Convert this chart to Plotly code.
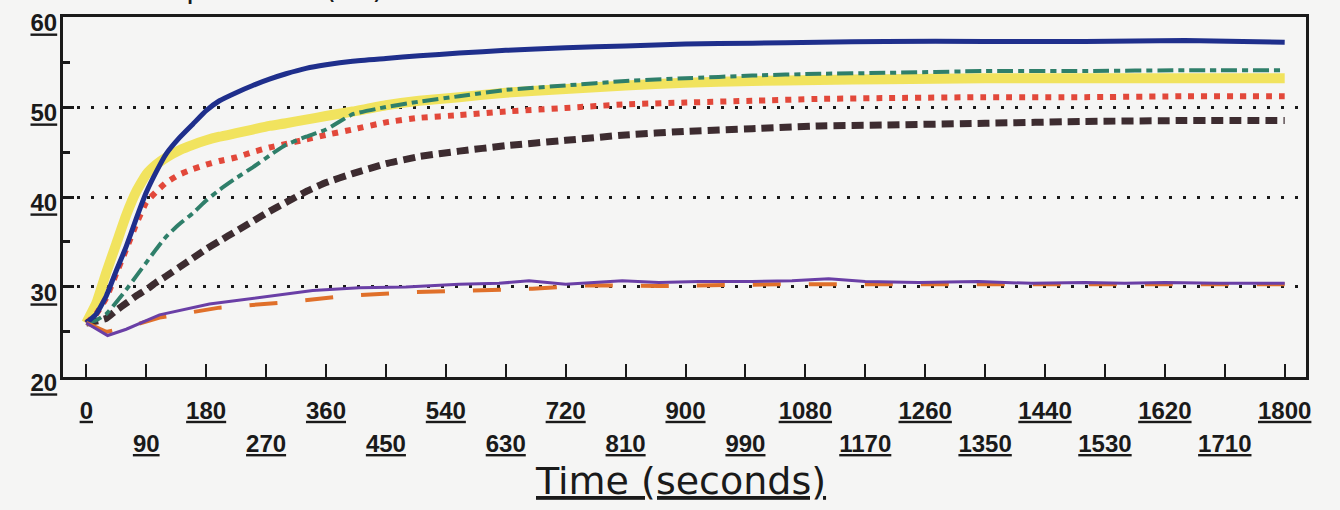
import plotly.graph_objects as go

# Sample times (s) for the smooth heating curves
time_s = [0, 15, 30, 45, 60, 75, 90, 105, 120, 140, 160, 180, 200, 225, 250, 275,
          300, 330, 360, 400, 450, 500, 560, 630, 720, 810, 900, 1000, 1100, 1200,
          1350, 1500, 1650, 1800]

blue_solid = [26.0, 27.0, 29.0, 31.8, 34.5, 37.6, 40.5, 42.8, 44.8, 46.6, 48.1, 49.6,
              50.7, 51.6, 52.4, 53.1, 53.7, 54.3, 54.7, 55.1, 55.4, 55.7, 56.0, 56.3,
              56.6, 56.8, 57.0, 57.1, 57.2, 57.3, 57.3, 57.3, 57.4, 57.2]
yellow_solid = [26.0, 28.2, 31.6, 34.8, 38.0, 40.6, 42.5, 43.6, 44.4, 45.2, 45.8, 46.3,
                46.7, 47.1, 47.5, 47.9, 48.2, 48.6, 49.0, 49.5, 50.2, 50.7, 51.1, 51.6,
                52.0, 52.4, 52.7, 52.9, 53.0, 53.1, 53.2, 53.2, 53.2, 53.2]
red_dotted = [26.0, 27.0, 28.8, 31.5, 34.2, 37.0, 39.4, 40.6, 41.6, 42.5, 43.1, 43.6,
              44.0, 44.4, 45.0, 45.5, 45.9, 46.4, 46.9, 47.5, 48.3, 48.8, 49.1, 49.5,
              49.9, 50.3, 50.5, 50.7, 50.9, 51.0, 51.1, 51.1, 51.2, 51.2]
teal_dashdot = [26.0, 26.3, 27.0, 28.3, 29.7, 31.2, 32.7, 34.2, 35.6, 37.0, 38.2, 39.6,
                40.8, 42.1, 43.3, 44.6, 45.8, 46.7, 47.5, 49.2, 50.0, 50.6, 51.2, 51.9,
                52.4, 52.9, 53.2, 53.5, 53.7, 53.8, 54.0, 54.0, 54.1, 54.1]
brown_dashed = [26.0, 26.2, 26.5, 27.4, 28.2, 29.0, 29.7, 30.5, 31.2, 32.2, 33.2, 34.2,
                35.1, 36.2, 37.3, 38.4, 39.4, 40.6, 41.6, 42.6, 43.7, 44.5, 45.1, 45.7,
                46.3, 46.9, 47.3, 47.6, 47.9, 48.0, 48.2, 48.4, 48.5, 48.5]

# The two flat curves
purple_time = [0, 32, 60, 110, 185, 270, 340, 410, 480, 560, 620, 665, 720, 805, 860,
               920, 1000, 1060, 1115, 1170, 1250, 1340, 1420, 1500, 1560, 1620, 1700, 1800]
purple_solid = [26.0, 24.6, 25.3, 26.9, 28.1, 28.9, 29.6, 29.9, 30.0, 30.3, 30.4, 30.7,
                30.3, 30.7, 30.5, 30.6, 30.6, 30.7, 30.9, 30.6, 30.5, 30.6, 30.4, 30.5,
                30.4, 30.5, 30.4, 30.4]
orange_time = [0, 30, 60, 110, 200, 300, 390, 485, 575, 670, 760, 860, 1045, 1200,
               1400, 1600, 1800]
orange_dashed = [26.0, 25.0, 25.5, 26.6, 27.7, 28.3, 29.0, 29.4, 29.6, 29.8, 30.2, 30.1,
                 30.3, 30.3, 30.3, 30.3, 30.3]

# Axis ticks
tick_row1 = list(range(0, 1801, 180))
tick_row2 = list(range(90, 1800, 180))
y_ticks = [20, 30, 40, 50, 60]

BG = "#f5f5f4"
INK = "#1a1a1a"
LABEL_FONT = dict(family="Liberation Sans", size=24, color=INK,
                  weight="bold", lineposition="under")

fig = go.Figure()

def add(x, y, color, width, dash="solid", shape="spline"):
    fig.add_trace(go.Scatter(x=x, y=y, mode="lines", showlegend=False,
                             hoverinfo="skip",
                             line=dict(color=color, width=width, dash=dash,
                                       shape=shape, smoothing=0.4)))

add(time_s, yellow_solid, "#f1e35e", 10)
add(time_s, red_dotted, "#e2483a", 6, "6px,7px")
add(time_s, brown_dashed, "#3d2c30", 7, "12px,6px")
add(time_s, teal_dashdot, "#2f7f6a", 4, "16px,5px,6px,5px")
add(time_s, blue_solid, "#1f2f8c", 5)
add(orange_time, orange_dashed, "#e0702a", 4, "28px,28px", "linear")
add(purple_time, purple_solid, "#6a3fa6", 3, "solid", "linear")

fig.update_layout(
    width=1340, height=510,
    margin=dict(l=63, r=34, t=17, b=133, autoexpand=False),
    paper_bgcolor=BG, plot_bgcolor=BG,
    xaxis=dict(
        range=[-35, 1832], showgrid=False, zeroline=False,
        showline=True, linewidth=3, linecolor=INK, mirror=True,
        tickvals=tick_row1 + tick_row2,
        ticktext=[str(v) for v in tick_row1] + ["" for _ in tick_row2],
        ticks="inside", ticklen=13, tickwidth=2, tickcolor=INK,
        tickfont=LABEL_FONT, ticklabelstandoff=10,
    ),
    xaxis2=dict(
        overlaying="x", anchor="y", side="bottom", matches="x",
        range=[-35, 1832], showgrid=False, zeroline=False, showline=False,
        tickvals=tick_row2, ticktext=[str(v) for v in tick_row2],
        ticks="", tickfont=LABEL_FONT, ticklabelstandoff=50,
    ),
    yaxis=dict(
        range=[19.99, 60.01], tickvals=y_ticks, ticktext=[str(v) for v in y_ticks],
        showline=True, linewidth=3, linecolor=INK, mirror=True,
        zeroline=False,
        ticks="inside", ticklen=11, tickwidth=3, tickcolor=INK,
        showgrid=True, gridcolor=INK, gridwidth=3, griddash="3px,11px",
        minor=dict(dtick=5, ticks="inside", ticklen=7, tickwidth=3,
                   tickcolor=INK, showgrid=False),
        tickfont=LABEL_FONT, ticklabelshift=6, ticklabelstandoff=-2,
    ),
    annotations=[
        dict(text="Time (seconds)", xref="paper", yref="paper", x=0.497, y=-0.222,
             xanchor="center", yanchor="top", showarrow=False,
             font=dict(family="DejaVu Sans", size=38, color=INK,
                       lineposition="under")),
        dict(text="Temperature (°C)", xref="paper", yref="paper", x=0.26, y=1.029,
             xanchor="right", yanchor="bottom", showarrow=False,
             font=dict(family="DejaVu Sans", size=30, color=INK)),
    ],
)

# a hidden trace keeps the second (label-only) x axis active
fig.add_trace(go.Scatter(x=[0], y=[20], xaxis="x2", mode="markers",
                         marker=dict(opacity=0), showlegend=False, hoverinfo="skip"))

fig.write_html("out.html")
